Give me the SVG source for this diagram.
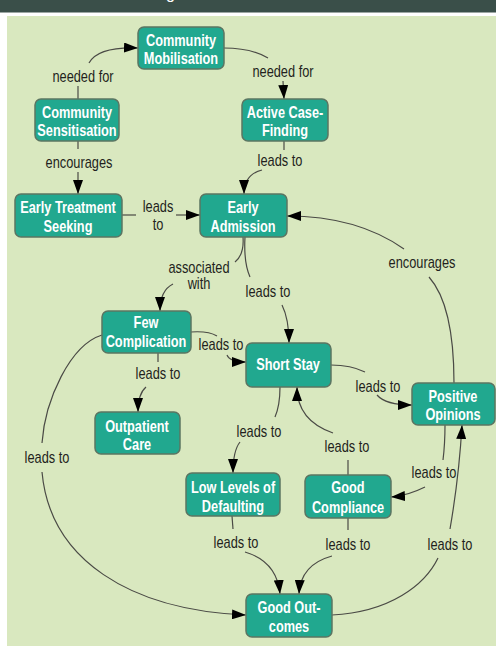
<svg xmlns="http://www.w3.org/2000/svg" width="496" height="646" viewBox="0 0 496 646">
<defs>
<style>
.nb{fill:#21a88f;stroke:#5b7562;stroke-width:1.5}
.nt{font-family:"Liberation Sans",Arial,sans-serif;font-weight:bold;font-size:17px;fill:#fff;text-anchor:middle}
.lt{font-family:"Liberation Sans",Arial,sans-serif;font-size:16px;fill:#231f20;text-anchor:middle}
.c{fill:none;stroke:#4a4a45;stroke-width:1.2}
.a{marker-end:url(#ah)}
</style>
<marker id="ah" viewBox="0 0 14 10" refX="14" refY="5" markerWidth="14" markerHeight="10" markerUnits="userSpaceOnUse" orient="auto">
<path d="M0,0 L14,5 L0,10 z" fill="#000"/>
</marker>
</defs>
<rect x="0" y="0" width="496" height="646" fill="#ffffff"/>
<rect x="0" y="0" width="496" height="12.5" fill="#3a4f49"/>
<text x="166" y="-1" font-family="Liberation Sans, sans-serif" font-size="16" fill="#fff">g</text>
<rect x="7" y="16" width="492" height="632" fill="#d9e8bf"/>

<g id="connectors">
<path class="c" d="M78,99 L78,86"/>
<path class="c a" d="M89,63 C95,52 110,47 138,48"/>
<text class="lt" transform="translate(83,82) scale(0.8,1)">needed for</text>

<path class="c" d="M224,48 C245,48 258,52 268,58"/>
<path class="c a" d="M283,81 L284,99"/>
<text class="lt" transform="translate(283,77) scale(0.8,1)">needed for</text>

<path class="c" d="M78,141 L78,149"/>
<path class="c a" d="M78,172 L78,194"/>
<text class="lt" transform="translate(79,168) scale(0.8,1)">encourages</text>

<path class="c" d="M284,141 L284,150"/>
<path class="c a" d="M262,170 C250,173 244,182 244,194"/>
<text class="lt" transform="translate(280,166) scale(0.8,1)">leads to</text>

<path class="c" d="M122,215 L136,215"/>
<path class="c a" d="M176,215 L200,215"/>
<text class="lt" transform="translate(158,212) scale(0.8,1)">leads</text>
<text class="lt" transform="translate(158,230) scale(0.8,1)">to</text>

<path class="c" d="M454,383 C454,330 445,295 429,277"/>
<path class="c a" d="M404,249 C370,225 330,216 287,216"/>
<text class="lt" transform="translate(422,268) scale(0.8,1)">encourages</text>

<path class="c" d="M243,237 C244,250 240,258 235,262"/>
<path class="c a" d="M173,284 C165,288 160,297 160,311"/>
<text class="lt" transform="translate(199,273) scale(0.8,1)">associated</text>
<text class="lt" transform="translate(199,289) scale(0.8,1)">with</text>

<path class="c" d="M245,237 C244,255 246,268 250,277"/>
<path class="c a" d="M282,305 C287,315 289,330 289,343"/>
<text class="lt" transform="translate(268,297) scale(0.8,1)">leads to</text>

<path class="c" d="M191,332 C205,331 212,333 217,336"/>
<path class="c a" d="M227,355 C229,360 235,362 246,362"/>
<text class="lt" transform="translate(221,350) scale(0.8,1)">leads to</text>

<path class="c" d="M158,353 L158,362"/>
<path class="c a" d="M146,387 C140,392 138,400 138,412"/>
<text class="lt" transform="translate(158,379) scale(0.8,1)">leads to</text>

<path class="c" d="M102,335 C70,345 45,400 42,443"/>
<path class="c a" d="M42,472 C50,560 130,610 246,615"/>
<text class="lt" transform="translate(47,463) scale(0.8,1)">leads to</text>

<path class="c" d="M331,365 C345,365 357,368 365,372"/>
<path class="c a" d="M377,395 C383,402 395,405 412,405"/>
<text class="lt" transform="translate(378,392) scale(0.8,1)">leads to</text>

<path class="c" d="M280,387 C280,400 278,410 275,417"/>
<path class="c a" d="M240,442 C236,447 233,458 233,473"/>
<text class="lt" transform="translate(259,437) scale(0.8,1)">leads to</text>

<path class="c" d="M348,475 L348,460"/>
<path class="c a" d="M333,433 C310,425 297,410 297,387"/>
<text class="lt" transform="translate(347,452) scale(0.8,1)">leads to</text>

<path class="c" d="M445,425 C445,440 444,452 443,460"/>
<path class="c a" d="M425,487 C415,492 405,496 391,497"/>
<text class="lt" transform="translate(434,478) scale(0.8,1)">leads to</text>

<path class="c" d="M232,516 L233,529"/>
<path class="c a" d="M245,552 C265,558 278,572 280,594"/>
<text class="lt" transform="translate(236,548) scale(0.8,1)">leads to</text>

<path class="c" d="M348,518 L348,530"/>
<path class="c a" d="M332,556 C310,562 300,575 299,594"/>
<text class="lt" transform="translate(348,550) scale(0.8,1)">leads to</text>

<path class="c" d="M332,615 C390,612 425,585 438,558"/>
<path class="c a" d="M450,529 C455,500 460,460 462,425"/>
<text class="lt" transform="translate(450,550) scale(0.8,1)">leads to</text>
</g>

<g id="community-mobilisation"><rect class="nb" x="138" y="27" width="86" height="42" rx="6"/><text class="nt" transform="translate(181,46) scale(0.75,1)">Community</text><text class="nt" transform="translate(181,64) scale(0.75,1)">Mobilisation</text></g>
<g id="community-sensitisation"><rect class="nb" x="35" y="99" width="84" height="42" rx="6"/><text class="nt" transform="translate(77,118) scale(0.75,1)">Community</text><text class="nt" transform="translate(77,136) scale(0.75,1)">Sensitisation</text></g>
<g id="active-case-finding"><rect class="nb" x="242" y="99" width="86" height="42" rx="6"/><text class="nt" transform="translate(285,118) scale(0.75,1)">Active Case-</text><text class="nt" transform="translate(285,136) scale(0.75,1)">Finding</text></g>
<g id="early-treatment-seeking"><rect class="nb" x="15" y="194" width="107" height="43" rx="6"/><text class="nt" transform="translate(68,213) scale(0.75,1)">Early Treatment</text><text class="nt" transform="translate(68,232) scale(0.75,1)">Seeking</text></g>
<g id="early-admission"><rect class="nb" x="200" y="194" width="87" height="43" rx="6"/><text class="nt" transform="translate(243,213) scale(0.75,1)">Early</text><text class="nt" transform="translate(243,232) scale(0.75,1)">Admission</text></g>
<g id="few-complication"><rect class="nb" x="102" y="311" width="89" height="42" rx="6"/><text class="nt" transform="translate(146,328) scale(0.75,1)">Few</text><text class="nt" transform="translate(146,347) scale(0.75,1)">Complication</text></g>
<g id="short-stay"><rect class="nb" x="246" y="343" width="85" height="44" rx="6"/><text class="nt" transform="translate(288,370) scale(0.75,1)">Short Stay</text></g>
<g id="positive-opinions"><rect class="nb" x="412" y="383" width="83" height="42" rx="6"/><text class="nt" transform="translate(453,402) scale(0.75,1)">Positive</text><text class="nt" transform="translate(453,420) scale(0.75,1)">Opinions</text></g>
<g id="outpatient-care"><rect class="nb" x="95" y="412" width="85" height="42" rx="6"/><text class="nt" transform="translate(137,432) scale(0.75,1)">Outpatient</text><text class="nt" transform="translate(137,450) scale(0.75,1)">Care</text></g>
<g id="low-levels-of-defaulting"><rect class="nb" x="186" y="473" width="94" height="43" rx="6"/><text class="nt" transform="translate(233,493) scale(0.75,1)">Low Levels of</text><text class="nt" transform="translate(233,512) scale(0.75,1)">Defaulting</text></g>
<g id="good-compliance"><rect class="nb" x="305" y="475" width="86" height="43" rx="6"/><text class="nt" transform="translate(348,493) scale(0.75,1)">Good</text><text class="nt" transform="translate(348,513) scale(0.75,1)">Compliance</text></g>
<g id="good-outcomes"><rect class="nb" x="246" y="594" width="86" height="43" rx="6"/><text class="nt" transform="translate(289,613) scale(0.75,1)">Good Out-</text><text class="nt" transform="translate(289,632) scale(0.75,1)">comes</text></g>
</svg>
